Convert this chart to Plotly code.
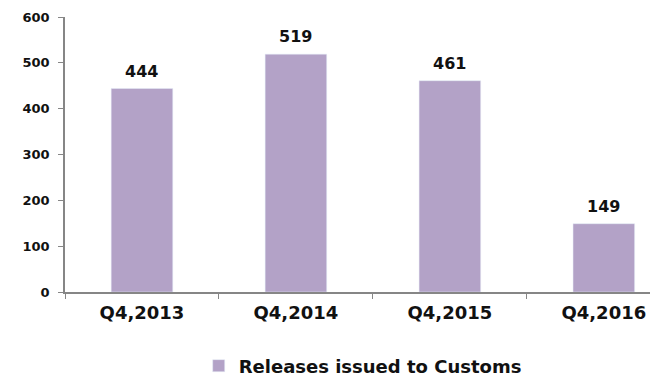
import plotly.graph_objects as go

quarters = ["Q4,2013", "Q4,2014", "Q4,2015", "Q4,2016"]
releases = [444, 519, 461, 149]
series_name = "Releases issued to Customs"

bar_color = "#B3A2C7"
axis_color = "#868686"

fig = go.Figure()
fig.add_trace(go.Bar(
    x=quarters,
    y=releases,
    name=series_name,
    marker=dict(color=bar_color),
    width=0.4,
    showlegend=True,
))

# value labels above each bar
for q, v in zip(quarters, releases):
    fig.add_annotation(
        x=q, y=v, text=str(v), showarrow=False,
        yanchor="bottom", yshift=6,
        font=dict(family="DejaVu Sans", size=16, color="#111111", weight="bold"),
    )

fig.update_layout(
    width=663,
    height=380,
    margin=dict(l=57, r=21, t=9, b=96),
    plot_bgcolor="white",
    paper_bgcolor="white",
    font=dict(family="DejaVu Sans", color="#111111"),
    showlegend=True,
    legend=dict(
        orientation="h",
        xref="container", yref="container",
        x=0.535, xanchor="center",
        y=0.058, yanchor="middle",
        font=dict(family="DejaVu Sans", size=18, color="#111111", weight="bold"),
        itemwidth=30,
    ),
)

fig.update_xaxes(
    type="category",
    range=[-0.5, 3.3],
    automargin=False,
    showline=True,
    linecolor=axis_color,
    linewidth=1.5,
    ticks="outside",
    tickson="boundaries",
    ticklen=5,
    tickcolor=axis_color,
    ticklabelstandoff=4,
    tickfont=dict(family="DejaVu Sans", size=18, color="#111111", weight="bold"),
    showgrid=False,
)

fig.update_yaxes(
    range=[0, 600],
    dtick=100,
    automargin=False,
    showline=True,
    linecolor=axis_color,
    linewidth=1.5,
    ticks="outside",
    ticklen=5,
    tickcolor=axis_color,
    ticklabelstandoff=6,
    tickfont=dict(family="DejaVu Sans", size=13, color="#111111", weight="bold"),
    showgrid=False,
    zeroline=False,
)

fig.write_html("out.html")
